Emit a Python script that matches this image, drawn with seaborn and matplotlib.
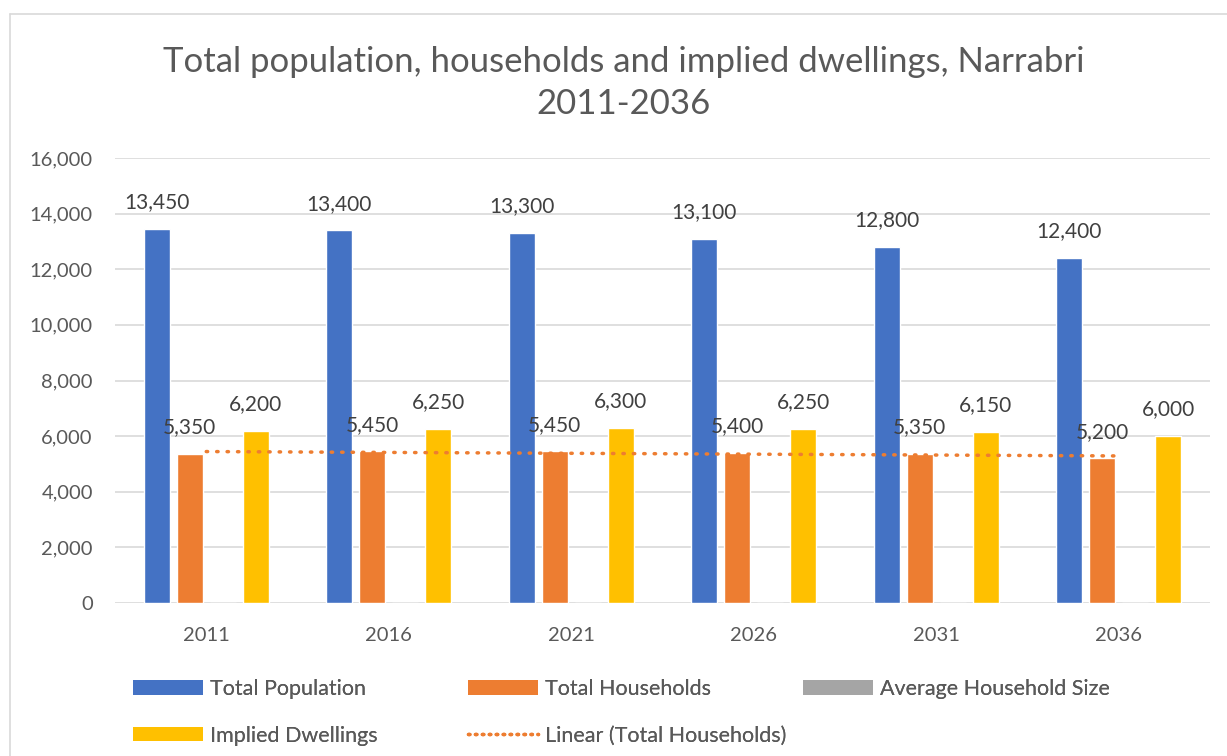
import numpy as np
import pandas as pd
import matplotlib
matplotlib.use('Agg')
import matplotlib.pyplot as plt
import seaborn as sns
from matplotlib.patches import Patch
from matplotlib.lines import Line2D

# ---------------- data ----------------
years = ['2011', '2016', '2021', '2026', '2031', '2036']
total_population = [13450, 13400, 13300, 13100, 12800, 12400]
total_households = [5350, 5450, 5450, 5400, 5350, 5200]
avg_household_size = [2.5, 2.5, 2.4, 2.4, 2.4, 2.4]
implied_dwellings = [6200, 6250, 6300, 6250, 6150, 6000]
series_names = ['Total Population', 'Total Households',
                'Average Household Size', 'Implied Dwellings']
trend_name = 'Linear (Total Households)'
y_ticks = [0, 2000, 4000, 6000, 8000, 10000, 12000, 14000, 16000]
title_text = 'Total population, households and implied dwellings, Narrabri\n2011-2036'

colors = ['#4472C4', '#ED7D31', '#A5A5A5', '#FFC000']
text_col = '#595959'
label_col = '#404040'
grid_col = '#D9D9D9'

df = pd.DataFrame({
    'Year': years * 4,
    'Series': np.repeat(series_names, len(years)),
    'Value': total_population + total_households + avg_household_size + implied_dwellings,
})

sns.set_theme(style='white')
plt.rcParams['font.family'] = ['Lato', 'DejaVu Sans']

W, H = 1227, 756
fig = plt.figure(figsize=(W / 100, H / 100), dpi=100)
ax = fig.add_axes([115 / W, 1 - 603 / H, 1095 / W, 445 / H])

sns.barplot(data=df, x='Year', y='Value', hue='Series', order=years,
            hue_order=series_names, palette=colors, saturation=1,
            width=0.723, gap=0.215, errorbar=None, legend=False, ax=ax, zorder=2)

# data labels (not for average household size)
for i, cont in enumerate(ax.containers):
    if series_names[i] == 'Average Household Size':
        continue
    vals = [b.get_height() for b in cont]
    ax.bar_label(cont, labels=[f'{v:,.0f}' for v in vals], padding=12,
                 fontsize=15, color=label_col)

# linear trend of total households
xs = np.arange(len(years))
coef = np.polyfit(xs, total_households, 1)
ax.plot(xs, np.polyval(coef, xs), color='#ED7D31', linewidth=2.5,
        linestyle=(0, (0.4, 2.6)), dash_capstyle='round', zorder=3)

ax.set_xlim(-0.5, len(years) - 0.5)
ax.set_ylim(0, 16000)
ax.set_yticks(y_ticks)
ax.set_yticklabels([f'{v:,}' for v in y_ticks])
ax.yaxis.grid(True, color=grid_col, linewidth=1.2, zorder=0)
ax.set_axisbelow(True)
for s in ax.spines.values():
    s.set_visible(False)
ax.tick_params(axis='both', length=0, labelsize=14.5, colors=text_col)
ax.tick_params(axis='x', pad=17)
ax.tick_params(axis='y', pad=16)
ax.set_xlabel('')
ax.set_ylabel('')

# title
fig.text(624 / W, 1 - 83 / H, title_text, ha='center', va='center',
         fontsize=25, color=text_col, linespacing=1.38)

# legend (three columns)
fs = 15.5
fs_px = fs * 100 / 72
handles = {
    'Total Population': Patch(facecolor=colors[0], edgecolor='none'),
    'Total Households': Patch(facecolor=colors[1], edgecolor='none'),
    'Average Household Size': Patch(facecolor=colors[2], edgecolor='none'),
    'Implied Dwellings': Patch(facecolor=colors[3], edgecolor='none'),
    trend_name: Line2D([], [], color='#ED7D31', linewidth=2.5,
                       linestyle=(0, (0.4, 1.6)), dash_capstyle='round'),
}
columns = [(133, ['Total Population', 'Implied Dwellings']),
           (468, ['Total Households', trend_name]),
           (803, ['Average Household Size'])]
for x0, names in columns:
    leg = fig.legend([handles[n] for n in names], names, loc='upper left',
                     bbox_to_anchor=(x0 / W, 1 - 679 / H), frameon=False,
                     fontsize=fs, labelcolor=text_col, borderpad=0,
                     borderaxespad=0, handlelength=70 / fs_px,
                     handleheight=14 / fs_px, handletextpad=7 / fs_px,
                     labelspacing=1.24)
    fig.add_artist(leg)

# chart border
fig.add_artist(Line2D([10 / W, 10 / W], [0, 1 - 14 / H], transform=fig.transFigure,
                      color=grid_col, linewidth=1.2))
fig.add_artist(Line2D([10 / W, 1], [1 - 14 / H, 1 - 14 / H], transform=fig.transFigure,
                      color=grid_col, linewidth=1.2))

fig.savefig('out.png', dpi=100, facecolor='white')
